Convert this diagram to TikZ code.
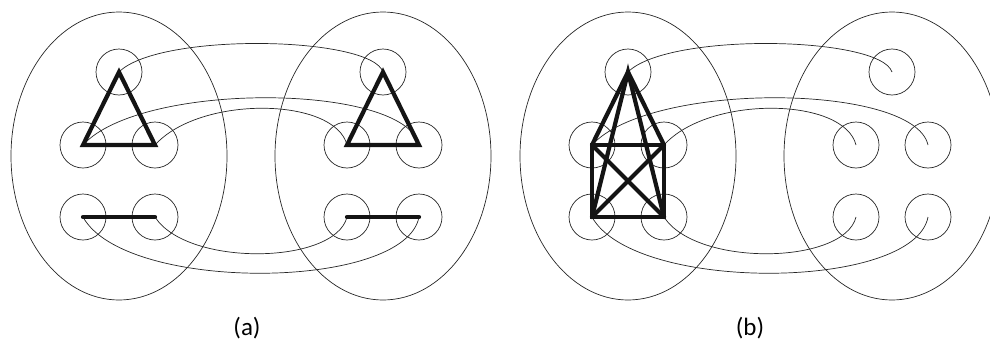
\documentclass[tikz,border=0pt]{standalone}
\usepackage{fontspec}
\setmainfont{Carlito}
\begin{document}
\begin{tikzpicture}[x=1pt,y=-1pt,
  thin line/.style={line width=0.7pt,draw=black!85},
  vert/.style={circle,draw=black!85,line width=0.7pt,minimum size=46pt,inner sep=0pt},
  thickedge/.style={line width=4.2pt,draw=black!92,line cap=round,line join=miter},
  lab/.style={font=\fontsize{25}{30}\selectfont,inner sep=0pt}]
\useasboundingbox (0,0) rectangle (990,343);
\begin{scope}
\clip (0,0) rectangle (990,343);
\foreach \p/\ox in {a/0,b/509}{
  % big ellipses
  \draw[thin line] (119+\ox,156) ellipse [x radius=108, y radius=144];
  \draw[thin line] (383+\ox,156) ellipse [x radius=108, y radius=144];
  % vertices left
  \node[vert] (\p L1) at (119+\ox,72) {};
  \node[vert] (\p L2) at (83+\ox,145) {};
  \node[vert] (\p L3) at (155+\ox,145) {};
  \node[vert] (\p L4) at (83+\ox,217) {};
  \node[vert] (\p L5) at (155+\ox,217) {};
  % vertices right
  \node[vert] (\p R1) at (383+\ox,72) {};
  \node[vert] (\p R2) at (347+\ox,145) {};
  \node[vert] (\p R3) at (419+\ox,145) {};
  \node[vert] (\p R4) at (347+\ox,217) {};
  \node[vert] (\p R5) at (419+\ox,217) {};
  % connecting curves
  \draw[thin line] (\p L1.center) .. controls +(40,-40) and +(-12,-36) .. (\p R1.center);
  \draw[thin line] (\p L2.center) .. controls +(58,-64) and +(-14,-62) .. (\p R3.center);
  \draw[thin line] (\p L3.center) .. controls +(45,-50) and +(-12,-48) .. (\p R2.center);
  \draw[thin line] (\p L5.center) .. controls +(32,50) and +(-12,48) .. (\p R4.center);
  \draw[thin line] (\p L4.center) .. controls +(42,76) and +(-14,74) .. (\p R5.center);
}
\end{scope}
% thick edges (a)
\draw[thickedge] (aL1.center) -- (aL2.center) -- (aL3.center) -- cycle;
\draw[thickedge] (aL4.center) -- (aL5.center);
\draw[thickedge] (aR1.center) -- (aR2.center) -- (aR3.center) -- cycle;
\draw[thickedge] (aR4.center) -- (aR5.center);
% thick edges (b): K5
\draw[thickedge] (bL2.center) -- (bL3.center) -- (bL5.center) -- (bL4.center) -- cycle;
\draw[thickedge] (bL2.center) -- (bL1.center) -- (bL3.center);
\draw[thickedge] (bL4.center) -- (bL1.center) -- (bL5.center);
\draw[thickedge] (bL2.center) -- (bL5.center);
\draw[thickedge] (bL3.center) -- (bL4.center);
% labels
\node[lab] (la) at (247,328) {(a)};
\node[lab] (lb) at (750,328) {(b)};
\end{tikzpicture}
\end{document}
